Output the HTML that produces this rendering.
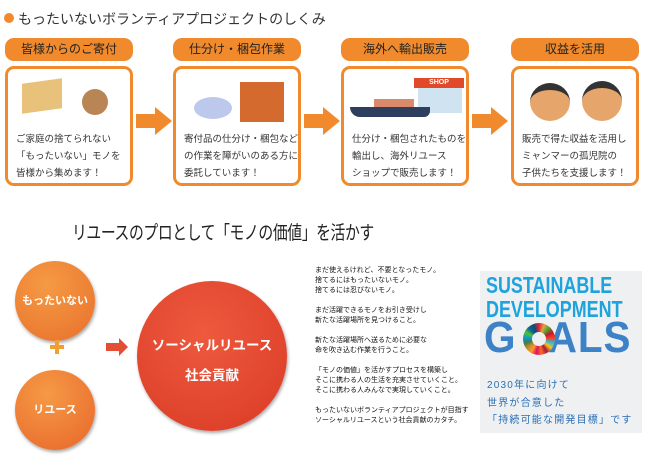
<!DOCTYPE html>
<html><head><meta charset="utf-8"><style>
body{margin:0;width:646px;height:460px;background:#fff;position:relative;overflow:hidden;font-family:"Liberation Sans","Noto Sans CJK JP",sans-serif;color:#333}
.a{position:absolute}
.pill{position:absolute;top:38px;width:128px;height:23px;background:#f08a2c;border-radius:9px;color:#222;font-size:12px;line-height:23px;text-align:center}
.box{position:absolute;top:66px;width:122px;height:114px;border:3px solid #f08a2c;border-radius:9px;background:#fff}
.box p{position:absolute;left:8px;top:62px;margin:0;font-size:9.5px;line-height:17px;color:#333;white-space:nowrap}
.circ{position:absolute;border-radius:50%;color:#fff;font-weight:bold;text-align:center;box-shadow:1px 2px 3px rgba(0,0,0,.35)}
.txt{position:absolute;left:315px;top:266px;font-size:7px;line-height:10px;color:#111;white-space:nowrap}
</style></head><body>
<div class="a" style="left:4px;top:13px;width:10px;height:10px;border-radius:50%;background:#f08a2c"></div>
<div class="a" style="left:18px;top:9px;font-size:14px;color:#333">もったいないボランティアプロジェクトのしくみ</div>

<div class="pill" style="left:5px">皆様からのご寄付</div>
<div class="pill" style="left:173px">仕分け・梱包作業</div>
<div class="pill" style="left:341px">海外へ輸出販売</div>
<div class="pill" style="left:511px">収益を活用</div>

<div class="box" style="left:5px">
<div class="a" style="left:14px;top:12px;width:40px;height:30px;background:#e8c27a;transform:skewY(-8deg)"></div>
<div class="a" style="left:74px;top:20px;width:26px;height:26px;border-radius:50%;background:#b98555"></div>
<p>ご家庭の捨てられない<br>「もったいない」モノを<br>皆様から集めます！</p></div>
<div class="box" style="left:173px">
<div class="a" style="left:18px;top:28px;width:38px;height:22px;border-radius:50%;background:#bcc8ec"></div>
<div class="a" style="left:64px;top:13px;width:44px;height:40px;background:#d46a2e"></div>
<p>寄付品の仕分け・梱包など<br>の作業を障がいのある方に<br>委託しています！</p></div>
<div class="box" style="left:341px">
<div class="a" style="left:70px;top:9px;width:50px;height:10px;background:#e04a2a;color:#fff;font-size:7px;font-weight:bold;text-align:center;line-height:10px">SHOP</div>
<div class="a" style="left:74px;top:19px;width:44px;height:25px;background:#cfe4f0"></div>
<div class="a" style="left:6px;top:38px;width:80px;height:10px;background:#2d3e5e;border-radius:0 0 6px 10px"></div>
<div class="a" style="left:30px;top:30px;width:40px;height:8px;background:#d88a6a"></div>
<p>仕分け・梱包されたものを<br>輸出し、海外リユース<br>ショップで販売します！</p></div>
<div class="box" style="left:511px">
<div class="a" style="left:16px;top:14px;width:40px;height:38px;border-radius:50%;background:#e6a56a;border-top:7px solid #333;box-sizing:border-box"></div>
<div class="a" style="left:68px;top:12px;width:40px;height:40px;border-radius:50%;background:#e6a56a;border-top:7px solid #333;box-sizing:border-box"></div>
<p>販売で得た収益を活用し<br>ミャンマーの孤児院の<br>子供たちを支援します！</p></div>

<svg class="a" style="left:0;top:0" width="646" height="200">
<g fill="#f08a2c">
<polygon points="136,114 155,114 155,107 172,121 155,135 155,128 136,128"/>
<polygon points="304,114 323,114 323,107 340,121 323,135 323,128 304,128"/>
<polygon points="472,114 491,114 491,107 508,121 491,135 491,128 472,128"/>
</g></svg>

<div class="a" style="left:72px;top:218px;font-size:19px;color:#222;transform:scaleX(0.78);transform-origin:0 0;white-space:nowrap;letter-spacing:-0.5px">リユースのプロとして「モノの価値」を活かす</div>

<div class="circ" style="left:15px;top:261px;width:80px;height:80px;line-height:80px;font-size:11px;background:radial-gradient(circle at 40% 30%,#f59a45,#e8702a)">もったいない</div>
<div class="a" style="left:50px;top:345px;width:14px;height:4px;background:#f0a030"></div>
<div class="a" style="left:55px;top:340px;width:4px;height:14px;background:#f0a030"></div>
<div class="circ" style="left:15px;top:370px;width:80px;height:80px;line-height:80px;font-size:11px;background:radial-gradient(circle at 40% 30%,#f59a45,#e8662a)">リユース</div>
<svg class="a" style="left:106px;top:338px" width="24" height="18"><polygon points="0,5 13,5 13,0 22,9 13,18 13,13 0,13" fill="#e34f34"/></svg>
<div class="circ" style="left:137px;top:281px;width:150px;height:150px;background:radial-gradient(circle at 45% 35%,#ee5a3e,#d93a25)"><div style="margin-top:50px;font-size:13.5px;line-height:30px">ソーシャルリユース<br>社会貢献</div></div>

<div class="txt">まだ使えるけれど、不要となったモノ。<br>捨てるにはもったいないモノ。<br>捨てるには忍びないモノ。<br><br>まだ活躍できるモノをお引き受けし<br>新たな活躍場所を見つけること。<br><br>新たな活躍場所へ送るために必要な<br>命を吹き込む作業を行うこと。<br><br>「モノの価値」を活かすプロセスを構築し<br>そこに携わる人の生活を充実させていくこと。<br>そこに携わる人みんなで実現していくこと。<br><br>もったいないボランティアプロジェクトが目指す<br>ソーシャルリユースという社会貢献のカタチ。</div>

<div class="a" style="left:480px;top:271px;width:162px;height:162px;background:#eef0f2"></div>
<div class="a" style="left:486px;top:273px;font-size:23px;font-weight:bold;color:#1ea3dc;line-height:24px;transform:scaleX(0.78);transform-origin:0 0;white-space:nowrap">SUSTAINABLE<br>DEVELOPMENT</div>
<div class="a" style="left:484px;top:316px;font-size:44px;font-weight:bold;color:#3d82c6;line-height:44px;transform:scaleX(0.92);transform-origin:0 0;letter-spacing:1px;white-space:nowrap">G<span style="display:inline-block;width:34px"></span>ALS</div>
<div class="a" style="left:523px;top:323px;width:32px;height:32px;border-radius:50%;background:conic-gradient(#e5243b,#dda63a,#4c9f38,#c5192d,#ff3a21,#26bde2,#fcc30b,#a21942,#fd6925,#dd1367,#fd9d24,#bf8b2e,#3f7e44,#0a97d9,#56c02b,#00689d,#19486a,#e5243b)"><div style="position:absolute;left:9px;top:9px;width:14px;height:14px;border-radius:50%;background:#eef0f2"></div></div>
<div class="a" style="left:487px;top:377px;font-size:10px;line-height:17.5px;color:#2a6fb5;letter-spacing:1.2px;white-space:nowrap">2030年に向けて<br>世界が合意した<br>「持続可能な開発目標」です</div>
</body></html>
